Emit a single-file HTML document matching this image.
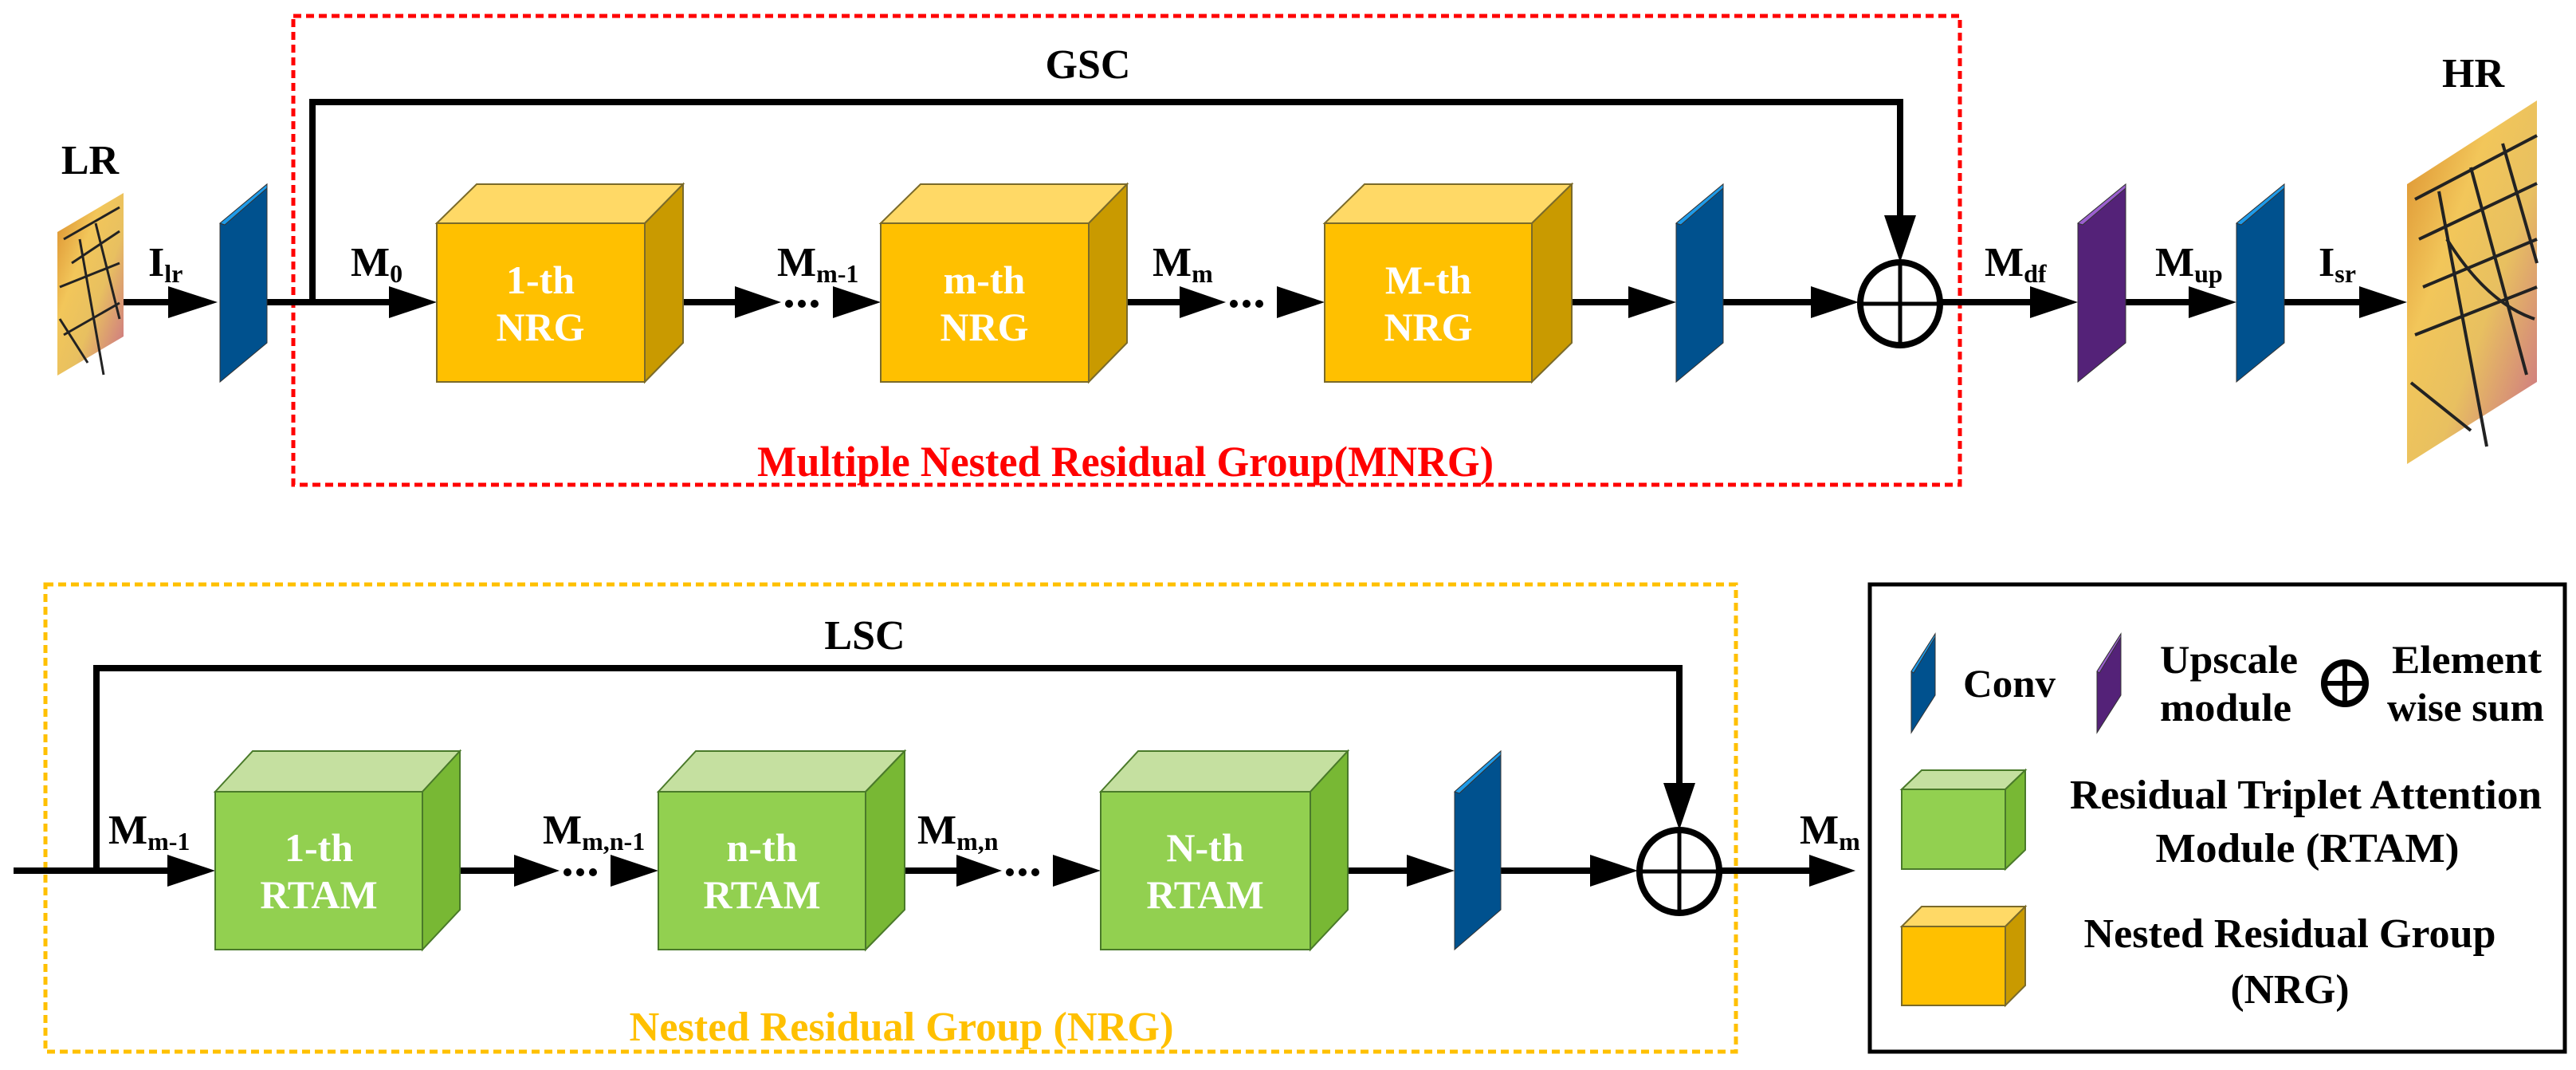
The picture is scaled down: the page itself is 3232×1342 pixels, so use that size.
<!DOCTYPE html>
<html><head><meta charset="utf-8"><style>html,body{margin:0;padding:0;background:#fff}svg{display:block}</style></head><body>
<svg width="3232" height="1342" viewBox="0 0 3232 1342" xmlns="http://www.w3.org/2000/svg" font-family="'Liberation Serif', serif" font-weight="bold">
<defs>
<linearGradient id="bf" x1="0" y1="0" x2="1" y2="1">
<stop offset="0" stop-color="#d98a2a"/><stop offset="0.35" stop-color="#f2c65a"/><stop offset="0.6" stop-color="#e8c060"/><stop offset="1" stop-color="#c96a8a"/>
</linearGradient>
</defs>

<rect x="368" y="20" width="2091" height="588" fill="none" stroke="#ff0000" stroke-width="5" stroke-dasharray="10,6"/>
<text x="1412" y="597" font-size="54" fill="#ff0000" text-anchor="middle" textLength="924" lengthAdjust="spacingAndGlyphs">Multiple Nested Residual Group(MNRG)</text>

<text x="1365" y="98" font-size="52" text-anchor="middle">GSC</text>
<polyline points="392,379 392,128 2384,128 2384,272" fill="none" stroke="#000" stroke-width="8"/>
<polygon points="2364,270 2404,270 2384,329" fill="#000"/>

<text x="113" y="218" font-size="52" text-anchor="middle">LR</text>
<text x="3103" y="109" font-size="52" text-anchor="middle">HR</text>

<polygon points="72,291 155,242 155,422 72,471" fill="url(#bf)"/>
<g stroke="#222" stroke-width="3" fill="none">
<path d="M80,300 L150,260 M90,330 L150,290 M75,360 L150,330 M100,300 L130,470 M120,280 L150,400 M80,420 L150,380 M75,400 L110,455"/>
</g>

<polygon points="3020,231 3183,126 3183,479 3020,582" fill="url(#bf)"/>
<g stroke="#222" stroke-width="4" fill="none">
<path d="M3030,250 L3183,170 M3035,300 L3183,230 M3040,360 L3183,300 M3060,240 L3120,560 M3100,210 L3170,470 M3140,180 L3183,330 M3030,420 L3183,360 M3025,480 L3100,540 M3070,300 Q3120,380 3180,400"/>
</g>

<g stroke="#000" stroke-width="8">
<line x1="155" y1="379" x2="215" y2="379"/>
<line x1="335" y1="379" x2="492" y2="379"/>
<line x1="857" y1="379" x2="925" y2="379"/>
<line x1="1414" y1="379" x2="1483" y2="379"/>
<line x1="1972" y1="379" x2="2046" y2="379"/>
<line x1="2162" y1="379" x2="2275" y2="379"/>
<line x1="2436" y1="379" x2="2550" y2="379"/>
<line x1="2667" y1="379" x2="2750" y2="379"/>
<line x1="2866" y1="379" x2="2963" y2="379"/>
</g>
<g fill="#000">
<polygon points="211,359 273,379 211,399"/>
<polygon points="488,359 548,379 488,399"/>
<polygon points="922,359 980,379 922,399"/>
<circle cx="990" cy="381" r="5"/><circle cx="1006" cy="381" r="5"/><circle cx="1022" cy="381" r="5"/>
<polygon points="1045,359 1105,379 1045,399"/>
<polygon points="1480,359 1538,379 1480,399"/>
<circle cx="1548" cy="381" r="5"/><circle cx="1564" cy="381" r="5"/><circle cx="1580" cy="381" r="5"/>
<polygon points="1602,359 1662,379 1602,399"/>
<polygon points="2043,359 2103,379 2043,399"/>
<polygon points="2272,359 2332,379 2272,399"/>
<polygon points="2547,359 2607,379 2547,399"/>
<polygon points="2746,359 2806,379 2746,399"/>
<polygon points="2960,359 3020,379 2960,399"/>
</g>
<ellipse cx="2384" cy="381" rx="50" ry="52" fill="none" stroke="#000" stroke-width="8"/>
<line x1="2384" y1="329" x2="2384" y2="433" stroke="#000" stroke-width="5"/>
<line x1="2334" y1="381" x2="2434" y2="381" stroke="#000" stroke-width="5"/>

<g stroke="#333" stroke-width="1">
<polygon points="276,280 335,231 335,430 276,479" fill="#00518E"/>
<polygon points="276,280 335,231 335,236 282,282" fill="#1E9BEA"/>
<polygon points="2103,280 2162,231 2162,430 2103,479" fill="#00518E"/>
<polygon points="2103,280 2162,231 2162,236 2109,282" fill="#1E9BEA"/>
<polygon points="2607,280 2667,231 2667,430 2607,479" fill="#542278"/>
<polygon points="2607,280 2667,231 2667,236 2613,282" fill="#9B5FD0"/>
<polygon points="2806,280 2866,231 2866,430 2806,479" fill="#00518E"/>
<polygon points="2806,280 2866,231 2866,236 2812,282" fill="#1E9BEA"/>
</g>

<g stroke="#7a6a2a" stroke-width="2">
<polygon points="548,280 598,231 857,231 809,280" fill="#FFD966"/>
<polygon points="809,280 857,231 857,430 809,479" fill="#C99A00"/>
<rect x="548" y="280" width="261" height="199" fill="#FFC000"/>
<polygon points="1105,280 1155,231 1414,231 1366,280" fill="#FFD966"/>
<polygon points="1366,280 1414,231 1414,430 1366,479" fill="#C99A00"/>
<rect x="1105" y="280" width="261" height="199" fill="#FFC000"/>
<polygon points="1662,280 1712,231 1972,231 1922,280" fill="#FFD966"/>
<polygon points="1922,280 1972,231 1972,430 1922,479" fill="#C99A00"/>
<rect x="1662" y="280" width="260" height="199" fill="#FFC000"/>
</g>
<g fill="#fff" font-size="50" text-anchor="middle">
<text x="678" y="368">1-th</text><text x="678" y="427">NRG</text>
<text x="1235" y="368">m-th</text><text x="1235" y="427">NRG</text>
<text x="1792" y="368">M-th</text><text x="1792" y="427">NRG</text>
</g>

<g font-size="52">
<text x="186" y="346">I<tspan font-size="32" dy="8">lr</tspan></text>
<text x="440" y="346">M<tspan font-size="32" dy="8">0</tspan></text>
<text x="975" y="346">M<tspan font-size="32" dy="8">m-1</tspan></text>
<text x="1446" y="346">M<tspan font-size="32" dy="8">m</tspan></text>
<text x="2490" y="346">M<tspan font-size="32" dy="8">df</tspan></text>
<text x="2704" y="346">M<tspan font-size="32" dy="8">up</tspan></text>
<text x="2909" y="346">I<tspan font-size="32" dy="8">sr</tspan></text>
</g>

<rect x="57" y="733" width="2121" height="586" fill="none" stroke="#FFC000" stroke-width="5" stroke-dasharray="10,6"/>
<text x="1131" y="1305" font-size="52" fill="#FFC000" text-anchor="middle" textLength="683" lengthAdjust="spacingAndGlyphs">Nested Residual Group (NRG)</text>

<text x="1085" y="814" font-size="52" text-anchor="middle">LSC</text>
<polyline points="121,1092 121,838 2107,838 2107,985" fill="none" stroke="#000" stroke-width="8"/>
<polygon points="2087,982 2127,982 2107,1041" fill="#000"/>

<g stroke="#000" stroke-width="8">
<line x1="17" y1="1092" x2="215" y2="1092"/>
<line x1="577" y1="1092" x2="650" y2="1092"/>
<line x1="1135" y1="1092" x2="1205" y2="1092"/>
<line x1="1691" y1="1092" x2="1770" y2="1092"/>
<line x1="1883" y1="1092" x2="2000" y2="1092"/>
<line x1="2159" y1="1092" x2="2275" y2="1092"/>
</g>
<g fill="#000">
<polygon points="210,1072 270,1092 210,1112"/>
<polygon points="645,1072 702,1092 645,1112"/>
<circle cx="712" cy="1094" r="5"/><circle cx="728" cy="1094" r="5"/><circle cx="744" cy="1094" r="5"/>
<polygon points="766,1072 826,1092 766,1112"/>
<polygon points="1200,1072 1257,1092 1200,1112"/>
<circle cx="1267" cy="1094" r="5"/><circle cx="1283" cy="1094" r="5"/><circle cx="1299" cy="1094" r="5"/>
<polygon points="1321,1072 1381,1092 1321,1112"/>
<polygon points="1765,1072 1825,1092 1765,1112"/>
<polygon points="1995,1072 2055,1092 1995,1112"/>
<polygon points="2270,1072 2328,1092 2270,1112"/>
</g>
<ellipse cx="2107" cy="1093" rx="50" ry="52" fill="none" stroke="#000" stroke-width="8"/>
<line x1="2107" y1="1041" x2="2107" y2="1145" stroke="#000" stroke-width="5"/>
<line x1="2057" y1="1093" x2="2157" y2="1093" stroke="#000" stroke-width="5"/>

<g stroke="#4a7a2a" stroke-width="2">
<polygon points="270,993 317,942 577,942 530,993" fill="#C5E0A0"/>
<polygon points="530,993 577,942 577,1141 530,1191" fill="#78B834"/>
<rect x="270" y="993" width="260" height="198" fill="#92D050"/>
<polygon points="826,993 873,942 1135,942 1086,993" fill="#C5E0A0"/>
<polygon points="1086,993 1135,942 1135,1141 1086,1191" fill="#78B834"/>
<rect x="826" y="993" width="260" height="198" fill="#92D050"/>
<polygon points="1381,993 1428,942 1691,942 1644,993" fill="#C5E0A0"/>
<polygon points="1644,993 1691,942 1691,1141 1644,1191" fill="#78B834"/>
<rect x="1381" y="993" width="263" height="198" fill="#92D050"/>
</g>
<g stroke="#333" stroke-width="1">
<polygon points="1825,993 1883,942 1883,1141 1825,1191" fill="#00518E"/>
<polygon points="1825,993 1883,942 1883,947 1831,995" fill="#1E9BEA"/>
</g>
<g fill="#fff" font-size="50" text-anchor="middle">
<text x="400" y="1080">1-th</text><text x="400" y="1139">RTAM</text>
<text x="956" y="1080">n-th</text><text x="956" y="1139">RTAM</text>
<text x="1512" y="1080">N-th</text><text x="1512" y="1139">RTAM</text>
</g>
<g font-size="52">
<text x="136" y="1058">M<tspan font-size="32" dy="8">m-1</tspan></text>
<text x="681" y="1058">M<tspan font-size="32" dy="8">m,n-1</tspan></text>
<text x="1151" y="1058">M<tspan font-size="32" dy="8">m,n</tspan></text>
<text x="2258" y="1058">M<tspan font-size="32" dy="8">m</tspan></text>
</g>

<rect x="2346" y="733" width="872" height="586" fill="none" stroke="#000" stroke-width="5"/>
<g stroke="#333" stroke-width="1">
<polygon points="2398,842 2428,795 2428,872 2398,919" fill="#00518E"/>
<polygon points="2398,842 2428,795 2428,799 2401,844" fill="#1E9BEA"/>
<polygon points="2631,842 2661,795 2661,872 2631,919" fill="#542278"/>
<polygon points="2631,842 2661,795 2661,799 2634,844" fill="#9B5FD0"/>
</g>
<g font-size="50">
<text x="2463" y="874" textLength="116" lengthAdjust="spacingAndGlyphs">Conv</text>
<text x="2710" y="844" textLength="173" lengthAdjust="spacingAndGlyphs">Upscale</text>
<text x="2710" y="904" textLength="165" lengthAdjust="spacingAndGlyphs">module</text>
<text x="3001" y="844" textLength="188" lengthAdjust="spacingAndGlyphs">Element</text>
<text x="2995" y="904" textLength="197" lengthAdjust="spacingAndGlyphs">wise sum</text>
</g>
<circle cx="2942" cy="857" r="26" fill="none" stroke="#000" stroke-width="8"/>
<line x1="2942" y1="831" x2="2942" y2="883" stroke="#000" stroke-width="6"/>
<line x1="2916" y1="857" x2="2968" y2="857" stroke="#000" stroke-width="6"/>

<g stroke="#4a7a2a" stroke-width="2">
<polygon points="2386,990 2411,966 2541,966 2516,990" fill="#C5E0A0"/>
<polygon points="2516,990 2541,966 2541,1066 2516,1090" fill="#78B834"/>
<rect x="2386" y="990" width="130" height="100" fill="#92D050"/>
</g>
<g stroke="#7a6a2a" stroke-width="2">
<polygon points="2386,1162 2411,1137 2541,1137 2516,1162" fill="#FFD966"/>
<polygon points="2516,1162 2541,1137 2541,1236 2516,1261" fill="#C99A00"/>
<rect x="2386" y="1162" width="130" height="99" fill="#FFC000"/>
</g>
<g font-size="52" text-anchor="middle">
<text x="2893" y="1014" textLength="592" lengthAdjust="spacingAndGlyphs">Residual Triplet Attention</text>
<text x="2895" y="1081" textLength="381" lengthAdjust="spacingAndGlyphs">Module (RTAM)</text>
<text x="2873" y="1188" textLength="517" lengthAdjust="spacingAndGlyphs">Nested Residual Group</text>
<text x="2873" y="1258" textLength="149" lengthAdjust="spacingAndGlyphs">(NRG)</text>
</g>
</svg>
</body></html>
